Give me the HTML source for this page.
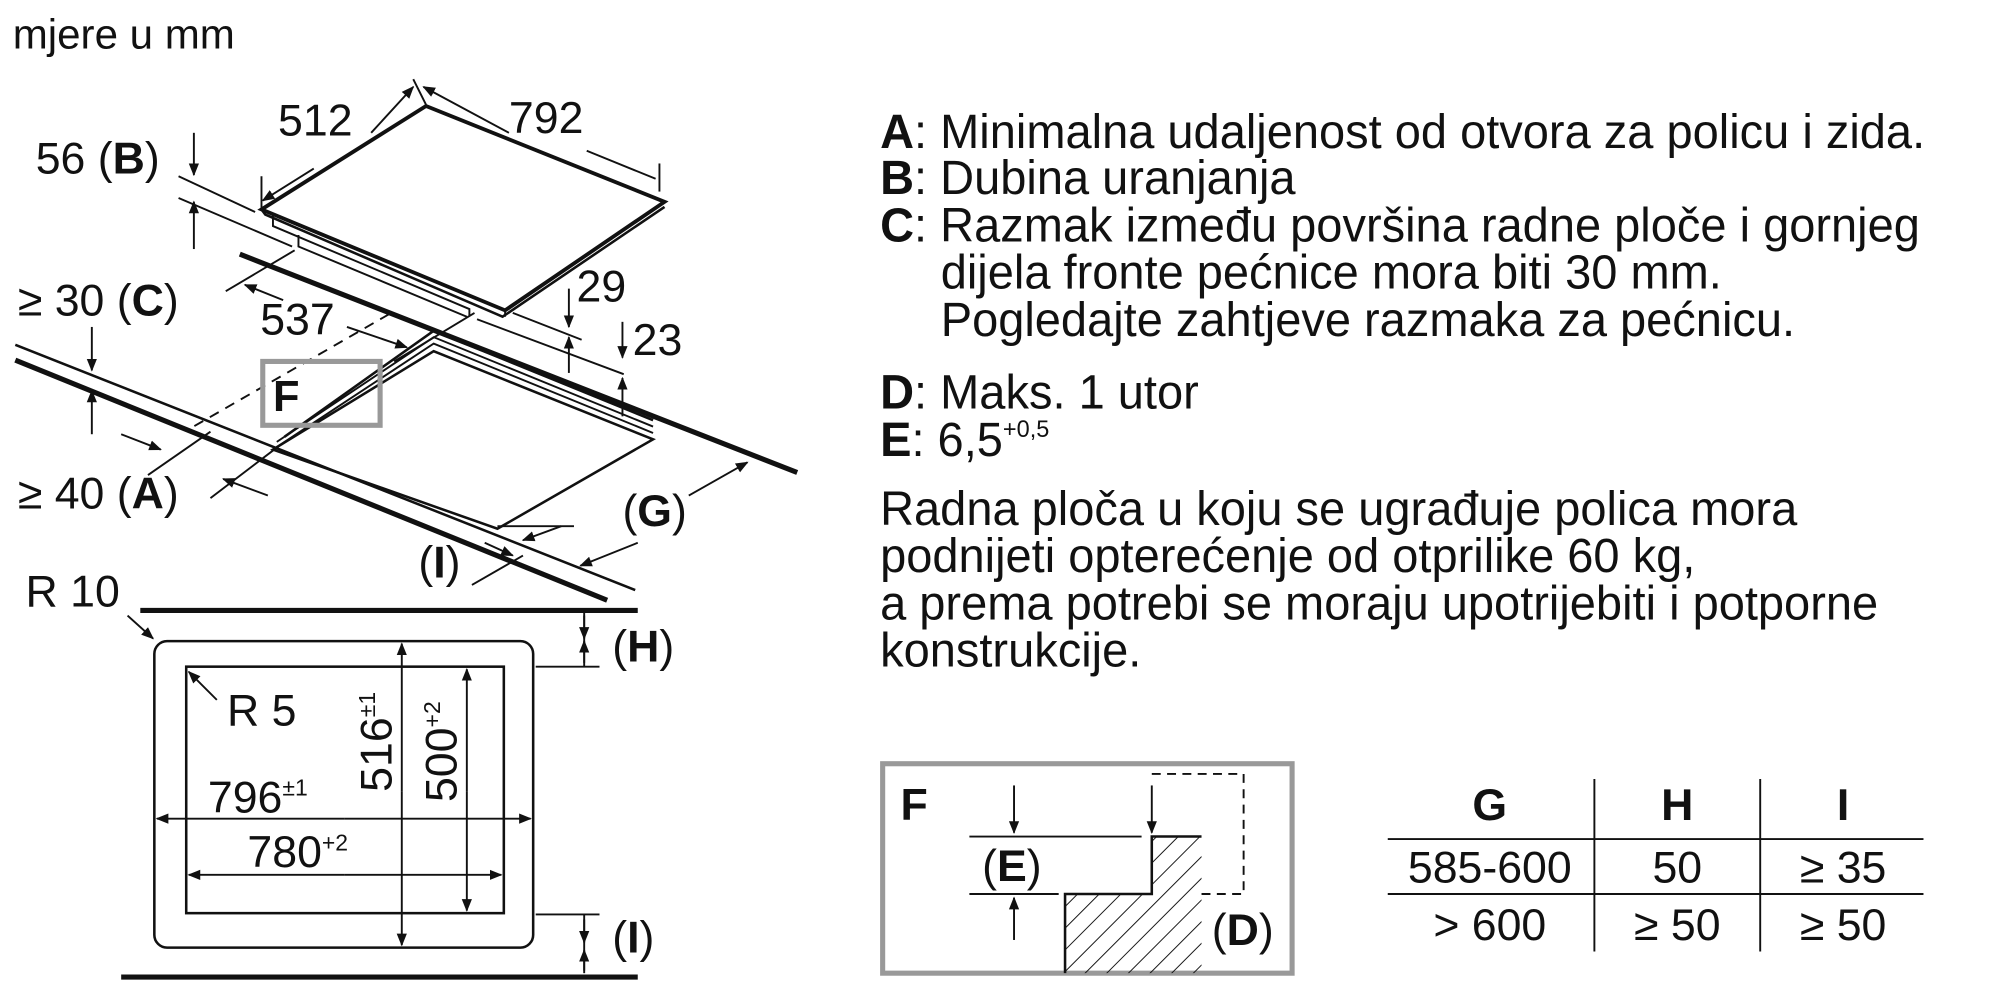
<!DOCTYPE html>
<html><head><meta charset="utf-8"><style>
html,body{margin:0;padding:0;background:#fff;}
svg{display:block;}
text{font-family:"Liberation Sans",sans-serif;fill:#111;}
</style></head><body>
<svg width="2000" height="1000" viewBox="0 0 1568 783" preserveAspectRatio="none" xmlns="http://www.w3.org/2000/svg">
<defs>
<marker id="a" markerWidth="10" markerHeight="10" refX="9" refY="5" orient="auto" markerUnits="userSpaceOnUse"><path d="M0,1 L10,5 L0,9z" fill="#111"/></marker>
<pattern id="h" width="12" height="12" patternUnits="userSpaceOnUse" patternTransform="rotate(45)"><line x1="0" y1="0" x2="0" y2="12" stroke="#111" stroke-width="1.5"/></pattern>
</defs>
<g stroke="#111" fill="none" stroke-width="1.5">
<text x="10" y="38" font-size="33" stroke="none">mjere u mm</text>
<g transform="translate(-6,0)">
<polygon points="340,83 527,158 402,243 211,164" stroke-width="3"/>
<polyline points="211,164 214,168 400,248 527,162" stroke-width="2"/>
<polyline points="220,168 220,177 374,242 374,247"/>
<polyline points="240,184 240,193 372,248"/>
<line x1="402" y1="243" x2="402" y2="248"/>
<line x1="330" y1="62" x2="340" y2="82"/>
<line x1="297" y1="104" x2="330" y2="68" marker-end="url(#a)"/>
<line x1="252" y1="132" x2="212" y2="157" marker-end="url(#a)"/>
<line x1="211" y1="138" x2="211" y2="164"/>
<line x1="405" y1="104" x2="338" y2="68" marker-end="url(#a)"/>
<line x1="466" y1="118" x2="520" y2="140"/>
<line x1="523" y1="128" x2="523" y2="150"/>
<text x="224" y="106" font-size="35" stroke="none">512</text>
<text x="405" y="104" font-size="35" stroke="none">792</text>
<line x1="183" y1="228" x2="237" y2="196"/>
<line x1="228" y1="235" x2="198" y2="223" marker-end="url(#a)"/>
<line x1="278" y1="256" x2="325" y2="272" marker-end="url(#a)"/>
<line x1="315" y1="283" x2="378" y2="245"/>
<text x="210" y="262" font-size="35" stroke="none">537</text>
<line x1="408" y1="245" x2="462" y2="266"/>
<line x1="380" y1="250" x2="495" y2="293"/>
</g>
<text x="28" y="136" font-size="35" stroke="none">56 (<tspan font-weight="bold">B</tspan>)</text>
<line x1="140" y1="138" x2="200" y2="166"/>
<line x1="140" y1="155" x2="229" y2="193"/>
<line x1="152" y1="104" x2="152" y2="137" marker-end="url(#a)"/>
<line x1="152" y1="195" x2="152" y2="158" marker-end="url(#a)"/>
<text x="452" y="236" font-size="35" stroke="none">29</text>
<text x="496" y="278" font-size="35" stroke="none">23</text>
<line x1="446" y1="226" x2="446" y2="256" marker-end="url(#a)"/>
<line x1="446" y1="292" x2="446" y2="264" marker-end="url(#a)"/>
<line x1="488" y1="252" x2="488" y2="280" marker-end="url(#a)"/>
<line x1="488" y1="326" x2="488" y2="296" marker-end="url(#a)"/>
<line x1="188" y1="199" x2="625" y2="370" stroke-width="4"/>
<line x1="12" y1="270" x2="498" y2="462" stroke-width="2"/>
<line x1="12" y1="282" x2="476" y2="470" stroke-width="4"/>
<g transform="translate(-5,2)">
<polygon points="345,273 517,342 395,412 219,350" stroke-width="2"/>
<polyline points="219,350 345,267 517,337"/>
<polyline points="222,344 345,262 517,332"/>
<polyline points="228,340 345,257 517,327" stroke-width="2"/>
</g>
<line x1="305" y1="246" x2="150" y2="335" stroke-dasharray="8,6"/>
<rect x="206" y="283" width="92" height="50" stroke="#999" stroke-width="4"/>
<text x="214" y="322" font-size="34" font-weight="bold" stroke="none">F</text>
<text x="14" y="247" font-size="35" stroke="none">≥ 30 (<tspan font-weight="bold">C</tspan>)</text>
<line x1="72" y1="256" x2="72" y2="290" marker-end="url(#a)"/>
<line x1="72" y1="340" x2="72" y2="306" marker-end="url(#a)"/>
<text x="14" y="398" font-size="35" stroke="none">≥ 40 (<tspan font-weight="bold">A</tspan>)</text>
<line x1="95" y1="340" x2="126" y2="352" marker-end="url(#a)"/>
<line x1="116" y1="372" x2="165" y2="338"/>
<line x1="210" y1="388" x2="175" y2="375" marker-end="url(#a)"/>
<line x1="165" y1="390" x2="215" y2="352"/>
<text x="488" y="412" font-size="35" stroke="none">(<tspan font-weight="bold">G</tspan>)</text>
<line x1="540" y1="388" x2="586" y2="362" marker-end="url(#a)"/>
<line x1="500" y1="425" x2="455" y2="443" marker-end="url(#a)"/>
<line x1="450" y1="412" x2="390" y2="412"/>
<text x="328" y="452" font-size="35" stroke="none">(<tspan font-weight="bold">I</tspan>)</text>
<line x1="370" y1="458" x2="410" y2="435"/>
<line x1="440" y1="412" x2="410" y2="423" marker-end="url(#a)"/>
<line x1="380" y1="425" x2="402" y2="435" marker-end="url(#a)"/>
<text x="20" y="475" font-size="35" stroke="none">R 10</text>
<line x1="100" y1="482" x2="120" y2="500" marker-end="url(#a)"/>
<line x1="110" y1="478" x2="500" y2="478" stroke-width="4"/>
<line x1="95" y1="765" x2="500" y2="765" stroke-width="4"/>
<rect x="121" y="502" width="297" height="240" rx="10" stroke-width="2"/>
<rect x="146" y="522" width="249" height="193" stroke-width="2"/>
<text x="178" y="568" font-size="35" stroke="none">R 5</text>
<line x1="170" y1="548" x2="148" y2="526" marker-end="url(#a)"/>
<line x1="458" y1="478" x2="458" y2="522"/>
<line x1="458" y1="482" x2="458" y2="500" marker-end="url(#a)"/>
<line x1="458" y1="519" x2="458" y2="502" marker-end="url(#a)"/>
<line x1="420" y1="522" x2="470" y2="522"/>
<text x="480" y="518" font-size="35" stroke="none">(<tspan font-weight="bold">H</tspan>)</text>
<line x1="420" y1="716" x2="470" y2="716"/>
<line x1="458" y1="716" x2="458" y2="762"/>
<line x1="458" y1="720" x2="458" y2="738" marker-end="url(#a)"/>
<line x1="458" y1="760" x2="458" y2="744" marker-end="url(#a)"/>
<text x="480" y="746" font-size="35" stroke="none">(<tspan font-weight="bold">I</tspan>)</text>
<line x1="315" y1="620" x2="315" y2="504" marker-end="url(#a)"/>
<line x1="315" y1="620" x2="315" y2="740" marker-end="url(#a)"/>
<line x1="366" y1="620" x2="366" y2="524" marker-end="url(#a)"/>
<line x1="366" y1="620" x2="366" y2="713" marker-end="url(#a)"/>
<text transform="translate(307,620) rotate(-90)" font-size="35" stroke="none">516<tspan font-size="18" dy="-13">±1</tspan></text>
<text transform="translate(358,628) rotate(-90)" font-size="35" stroke="none">500<tspan font-size="18" dy="-13">+2</tspan></text>
<line x1="270" y1="641" x2="123" y2="641" marker-end="url(#a)"/>
<line x1="270" y1="641" x2="416" y2="641" marker-end="url(#a)"/>
<text x="163" y="636" font-size="35" stroke="none">796<tspan font-size="18" dy="-13">±1</tspan></text>
<line x1="270" y1="685" x2="148" y2="685" marker-end="url(#a)"/>
<line x1="270" y1="685" x2="393" y2="685" marker-end="url(#a)"/>
<text x="194" y="679" font-size="35" stroke="none">780<tspan font-size="18" dy="-13">+2</tspan></text>
</g>
<g font-size="38" transform="translate(690,0) scale(0.97,1) translate(-690,0)">
<text x="690" y="116"><tspan font-weight="bold">A</tspan>: Minimalna udaljenost od otvora za policu i zida.</text>
<text x="690" y="152"><tspan font-weight="bold">B</tspan>: Dubina uranjanja</text>
<text x="690" y="189"><tspan font-weight="bold">C</tspan>: Razmak između površina radne ploče i gornjeg</text>
<text x="739" y="226">dijela fronte pećnice mora biti 30 mm.</text>
<text x="739" y="263">Pogledajte zahtjeve razmaka za pećnicu.</text>
<text x="690" y="320"><tspan font-weight="bold">D</tspan>: Maks. 1 utor</text>
<text x="690" y="357"><tspan font-weight="bold">E</tspan>: 6,5<tspan font-size="19" dy="-15">+0,5</tspan></text>
<text x="690" y="411">Radna ploča u koju se ugrađuje polica mora</text>
<text x="690" y="448">podnijeti opterećenje od otprilike 60 kg,</text>
<text x="690" y="485">a prema potrebi se moraju upotrijebiti i potporne</text>
<text x="690" y="522">konstrukcije.</text>
</g>
<g stroke="#111" fill="none" stroke-width="1.5">
<rect x="692" y="598" width="321" height="164" stroke="#999" stroke-width="4"/>
<polygon points="835,700 903,700 903,655 942,655 942,762 835,762" fill="url(#h)" stroke="none"/>
<polyline points="835,762 835,700 903,700 903,655 942,655" stroke-width="2"/>
<polyline points="903,606 975,606 975,700 942,700" stroke-dasharray="7,5"/>
<line x1="760" y1="655" x2="895" y2="655"/>
<line x1="760" y1="700" x2="830" y2="700"/>
<line x1="795" y1="615" x2="795" y2="652" marker-end="url(#a)"/>
<line x1="795" y1="736" x2="795" y2="703" marker-end="url(#a)"/>
<line x1="903" y1="615" x2="903" y2="652" marker-end="url(#a)"/>
</g>
<text x="706" y="642" font-size="35" font-weight="bold">F</text>
<text x="770" y="690" font-size="35">(<tspan font-weight="bold">E</tspan>)</text>
<text x="950" y="740" font-size="35">(<tspan font-weight="bold">D</tspan>)</text>
<g stroke="#111" stroke-width="1.5">
<line x1="1088" y1="657" x2="1508" y2="657"/>
<line x1="1088" y1="700" x2="1508" y2="700"/>
<line x1="1250" y1="610" x2="1250" y2="745"/>
<line x1="1380" y1="610" x2="1380" y2="745"/>
</g>
<g font-size="35" text-anchor="middle">
<text x="1168" y="642" font-weight="bold">G</text>
<text x="1315" y="642" font-weight="bold">H</text>
<text x="1445" y="642" font-weight="bold">I</text>
<text x="1168" y="691">585-600</text>
<text x="1315" y="691">50</text>
<text x="1445" y="691">≥ 35</text>
<text x="1168" y="736">&gt; 600</text>
<text x="1315" y="736">≥ 50</text>
<text x="1445" y="736">≥ 50</text>
</g>
</svg>
</body></html>
